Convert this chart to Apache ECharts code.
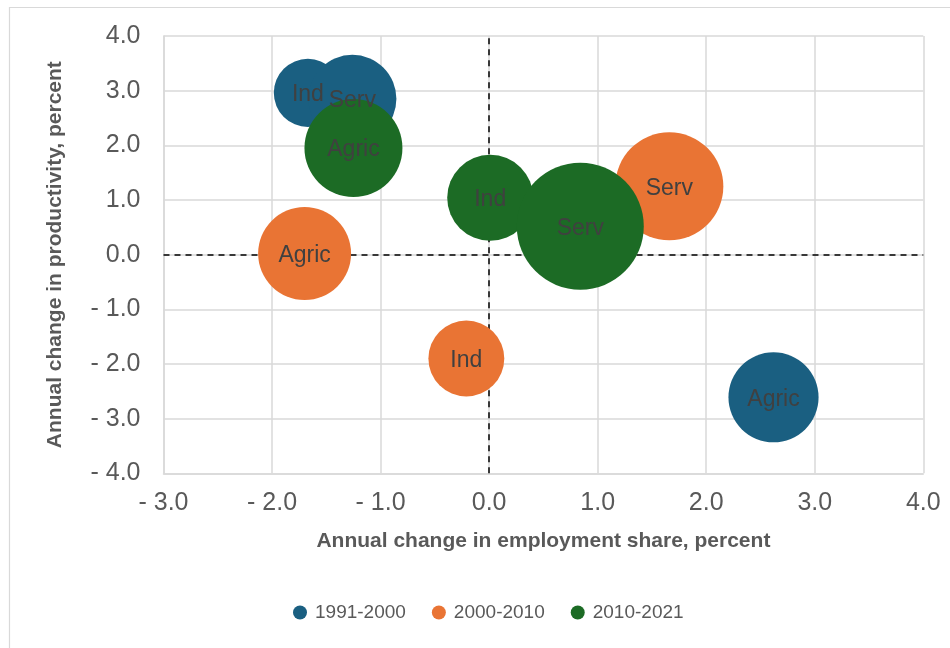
<!DOCTYPE html>
<html>
<head>
<meta charset="utf-8">
<title>Employment share vs productivity</title>
<script src="https://cdn.jsdelivr.net/npm/echarts@6/dist/echarts.min.js"></script>
<style>
  html, body { margin: 0; padding: 0; background: #ffffff; }
  #chart { width: 950px; height: 648px; }
</style>
</head>
<body>
<div id="chart"></div>
<script>
// Sector labels, shared by every period
const sectors = ['Agric', 'Ind', 'Serv'];

// Period names shown in the legend
const periods = ['1991-2000', '2000-2010', '2010-2021'];

// Annual change in employment share (percent), per sector: Agric, Ind, Serv
const empChange1991 = [2.62, -1.67, -1.26];
const empChange2000 = [-1.70, -0.21, 1.66];
const empChange2010 = [-1.25, 0.01, 0.84];

// Annual change in productivity (percent), per sector: Agric, Ind, Serv
const prodChange1991 = [-2.61, 2.96, 2.85];
const prodChange2000 = [0.02, -1.90, 1.25];
const prodChange2010 = [1.95, 1.04, 0.52];

// Bubble size values, per sector: Agric, Ind, Serv
const size1991 = [20.3, 11.6, 19.4];
const size2000 = [21.6, 14.4, 29.2];
const size2010 = [24.0, 18.5, 40.3];

// Axis ranges and tick step
const xMin = -3, xMax = 4;
const yMin = -4, yMax = 4;
const tickStep = 1;

const periodColors = ['#1a5f81', '#e97434', '#1c6b25'];

function buildPoints(xs, ys, sizes) {
  return sectors.map((s, i) => ({ name: s, value: [xs[i], ys[i], sizes[i]] }));
}

const periodData = [
  buildPoints(empChange1991, prodChange1991, size1991),
  buildPoints(empChange2000, prodChange2000, size2000),
  buildPoints(empChange2010, prodChange2010, size2010)
];

function tickFormat(v) {
  if (v < 0) return '- ' + Math.abs(v).toFixed(1);
  return v.toFixed(1);
}

const axisGray = '#595959';
const gridGray = '#d9d9d9';

const series = periods.map((p, i) => {
  const s = {
    name: p,
    type: 'scatter',
    z: 3,
    data: periodData[i],
    symbol: 'circle',
    symbolSize: function (val) { return 20 * Math.sqrt(val[2]); },
    itemStyle: { color: periodColors[i], opacity: 1 },
    label: {
      show: true,
      position: 'inside',
      formatter: '{b}',
      color: '#404040',
      fontFamily: 'Liberation Sans, Arial, sans-serif',
      fontSize: 23,
      offset: [0, 2]
    },
    emphasis: { disabled: true }
  };
  if (i === 0) {
    // zero reference lines, drawn beneath the bubbles
    s.markLine = {
      silent: true,
      z: 1,
      symbol: 'none',
      label: { show: false },
      lineStyle: { color: '#000000', type: [6, 5], width: 1.5 },
      data: [{ xAxis: 0 }, { yAxis: 0 }]
    };
  }
  return s;
});

const chart = echarts.init(document.getElementById('chart'), null, { renderer: 'canvas' });

chart.setOption({
  animation: false,
  backgroundColor: '#ffffff',
  textStyle: { fontFamily: 'Liberation Sans, Arial, sans-serif' },
  graphic: [{
    type: 'rect',
    left: 7,
    top: 5,
    shape: { width: 980, height: 700 },
    style: { fill: 'none', stroke: gridGray, lineWidth: 1.2 },
    silent: true,
    z: -1
  }],
  grid: { left: 163.5, right: 26.7, top: 36, bottom: 174.7 },
  legend: {
    data: periods,
    left: 288,
    top: 598,
    icon: 'circle',
    itemWidth: 20,
    itemHeight: 14,
    itemGap: 26,
    textStyle: { color: axisGray, fontSize: 19, fontFamily: 'Liberation Sans, Arial, sans-serif' }
  },
  xAxis: {
    type: 'value',
    min: xMin,
    max: xMax,
    interval: tickStep,
    name: 'Annual change in employment share, percent',
    nameLocation: 'middle',
    nameGap: 57,
    nameTextStyle: { color: axisGray, fontSize: 21, fontWeight: 'bold' },
    axisLine: { show: true, onZero: false, lineStyle: { color: gridGray, width: 1.5 } },
    axisTick: { show: false },
    axisLabel: { color: axisGray, fontSize: 25, margin: 17, formatter: tickFormat },
    splitLine: { show: true, lineStyle: { color: gridGray, width: 1.5 } }
  },
  yAxis: {
    type: 'value',
    min: yMin,
    max: yMax,
    interval: tickStep,
    name: 'Annual change in productivity, percent',
    nameLocation: 'middle',
    nameGap: 98,
    nameTextStyle: { color: axisGray, fontSize: 21, fontWeight: 'bold' },
    axisLine: { show: true, onZero: false, lineStyle: { color: gridGray, width: 1.5 } },
    axisTick: { show: false },
    axisLabel: { color: axisGray, fontSize: 25, margin: 23, formatter: tickFormat },
    splitLine: { show: true, lineStyle: { color: gridGray, width: 1.5 } }
  },
  series: series
});
</script>
</body>
</html>
